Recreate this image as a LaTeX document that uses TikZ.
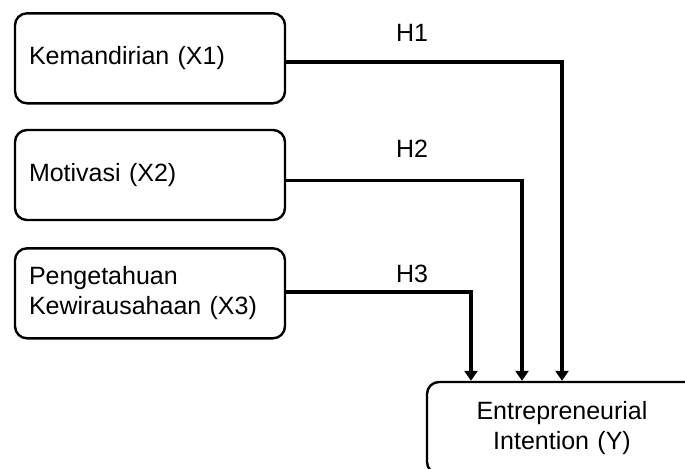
\documentclass[tikz,border=0pt]{standalone}
\usepackage{fontspec}
\setmainfont{Liberation Sans}
\usepackage{tikz}
\usetikzlibrary{arrows.meta}
\tikzstyle{varbox} = [draw=black, fill=white, line width=1.2pt,
    rectangle, rounded corners=6pt, inner xsep=7pt, inner ysep=4pt,
    minimum width=135pt, minimum height=45pt, text width=121pt, align=left,
    font=\fontsize{12.5}{15}\selectfont]
\tikzstyle{targetbox} = [varbox, minimum width=134pt, minimum height=46pt, align=center]
\tikzstyle{hline} = [line width=1.8pt, -{Triangle[length=5pt,width=6.5pt]}]
\tikzstyle{hlabel} =[font=\fontsize{12.5}{15}\selectfont, inner sep=0pt]

\begin{document}
\begin{tikzpicture}[x=1pt,y=1pt]
                \useasboundingbox (0,0) rectangle (342.5,234);
                \node [varbox] (x1) at (75,204.85) {Kemandirian (X1)};
                \node [varbox] (x2) at (75,146.5) {Motivasi (X2)};
                \node [varbox] (x3) at (75,87.35) {Pengetahuan\\Kewirausahaan (X3)};
                \node [targetbox] (y) at (281,20) {Entrepreneurial\\Intention (Y)};
                \draw [hline] ([yshift=-1.7pt]x1.east) -| (y.north);
                \draw [hline] ([yshift=-2.8pt]x2.east) -| ([xshift=-20pt]y.north);
                \draw [hline] ([yshift=0.6pt]x3.east) -| ([xshift=-45.5pt]y.north);
                \node [hlabel] (h1) at (206,217.8) {H1};
                \node [hlabel] (h2) at (206,159.5) {H2};
                \node [hlabel] (h3) at (206,97.3) {H3};
            \end{tikzpicture}
\end{document}
